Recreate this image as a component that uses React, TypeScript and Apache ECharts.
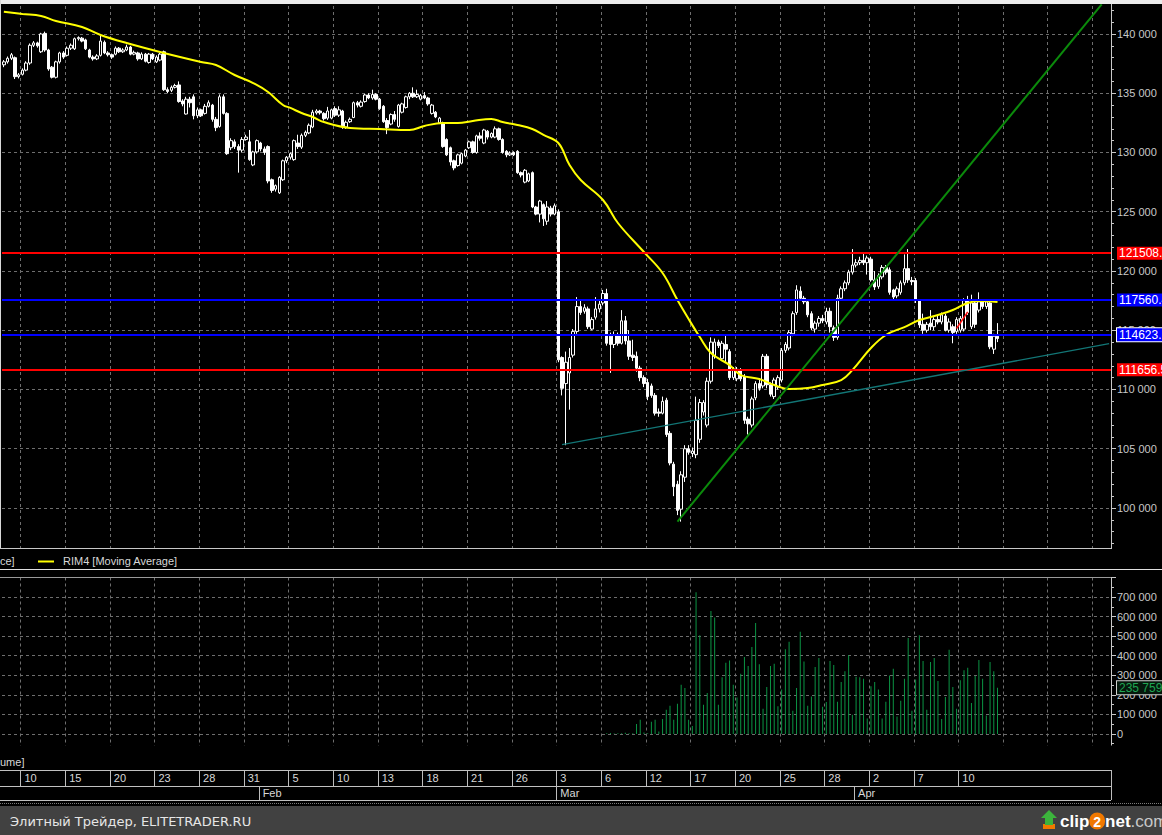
import React, { useEffect, useRef } from "react";
import * as echarts from "echarts";

// ---------------- DATA ----------------
// time axis: 4 bars per trading day, slots 0..297 (bars drawn in 0..267)
const slotCount = 298;

// day labels of the date row and the slot index where each day starts
const dayLabelIndex = [5, 17, 29, 41, 53, 65, 77, 89, 101, 113, 125, 137, 149, 161, 173, 185, 197, 209, 221, 233, 245, 257];
const dayLabels = ["10", "15", "20", "23", "28", "31", "5", "10", "13", "18", "21", "26", "3", "6", "12", "17", "20", "25", "28", "2", "7", "10"];
const monthStartIndex = [69, 149, 229];
const monthLabels = ["Feb", "Mar", "Apr"];

// price axis range visible in the panel
const priceMin = 95000;
const priceMax = 142869;
const priceStep = 5000;
const volumeMin = -100000;
const volumeMax = 800000;
const volumeStep = 100000;

// candles: [open, close, low, high]
const janCandles = [
  [137400, 137650, 137200, 137800], [137650, 137950, 137500, 138100], [137950, 138250, 137800, 138400], [138000, 136400, 136200, 138100],
  [136400, 136550, 136250, 136700], [136600, 136950, 136500, 137100], [136950, 137550, 136850, 137700], [137550, 139050, 137400, 139200],
  [139050, 139250, 138900, 139400], [139250, 139000, 138850, 139350], [138500, 140000, 138400, 140100], [140050, 138650, 138500, 140200],
  [138650, 137050, 136900, 138750], [137200, 136350, 136250, 137300], [136350, 137650, 136250, 137750], [137650, 138400, 137500, 138500],
  [138400, 138050, 137900, 138550], [138200, 138800, 138100, 138950], [138800, 139050, 138650, 139200], [138750, 139600, 138650, 139700],
  [139600, 139700, 139450, 139800], [139650, 139400, 139300, 139750], [139500, 138750, 138650, 139600], [138650, 138050, 137950, 138750],
  [138050, 137900, 137750, 138200], [137900, 138150, 137800, 138300], [138200, 139400, 138100, 139900], [139300, 138400, 138300, 139450],
  [138400, 138250, 138100, 138550], [138250, 138050, 137900, 138350], [138300, 138800, 138200, 138950], [138800, 138500, 138400, 138900],
  [138500, 138650, 138400, 138800], [138650, 138900, 138550, 139100], [138900, 138300, 138200, 139000], [138300, 138450, 138200, 138600],
  [138400, 137900, 137750, 138500], [137900, 138300, 137800, 138450], [138300, 137700, 137600, 138400], [137600, 138300, 137500, 138400],
  [138300, 137900, 137800, 138400], [137650, 138050, 137550, 138200], [137800, 138300, 137700, 138400], [138500, 135300, 135200, 138600],
  [135300, 135150, 135000, 135500], [135250, 135500, 135100, 135650], [135500, 135650, 135400, 135800], [135700, 134300, 134200, 136000],
  [134350, 134100, 133900, 134500], [133250, 134500, 133200, 134700], [134500, 134200, 133800, 134700], [134700, 133100, 132800, 134900],
  [133100, 133600, 132900, 133800], [133600, 133100, 133000, 133700], [133300, 133900, 133200, 134100], [133900, 134200, 133800, 134400],
  [134000, 132800, 132600, 134100], [132800, 132100, 131800, 133000], [132200, 134700, 132100, 134900], [134700, 133300, 133200, 134900],
  [133300, 129900, 129800, 133400], [130400, 131000, 130200, 131200], [130900, 130500, 130300, 131100], [130500, 130200, 128300, 130700],
  [130200, 131100, 130000, 131300], [131100, 131300, 131000, 131500], [130900, 129400, 129300, 131900], [128950, 130050, 128850, 130150],
  [130050, 131000, 129900, 131100],
];
const febCandles = [
  [130800, 130300, 130100, 130900], [130300, 130000, 129800, 130500], [130500, 127600, 127400, 130600], [127700, 126800, 126600, 127800],
  [126900, 127200, 126700, 127300], [126600, 127900, 126500, 128000], [127700, 129300, 127600, 129400], [129300, 129600, 129100, 129700],
  [129600, 129900, 129400, 130000], [129400, 131000, 129300, 131100], [130800, 130500, 130300, 131500], [130450, 131450, 130300, 131600],
  [131450, 131700, 131300, 131850], [131650, 132300, 131550, 132450], [132150, 133400, 132050, 133600], [133350, 133500, 133200, 133650],
  [133500, 133350, 133200, 133600], [133300, 132850, 132700, 133400], [132900, 133500, 132750, 133850], [132900, 133600, 132800, 133700],
  [133700, 133150, 133000, 133900], [133150, 133600, 133000, 133900], [133500, 132150, 132000, 133600], [132150, 132550, 132000, 132700],
  [132600, 132800, 132500, 132950], [132950, 134200, 132900, 134300], [134200, 134000, 133800, 134350], [133900, 134250, 133800, 134400],
  [134300, 134850, 134200, 134950], [134850, 134600, 134500, 135000], [134600, 134900, 134450, 135300], [134900, 134500, 134400, 135000],
  [134500, 133700, 133600, 134600], [133900, 132600, 132500, 134000], [132700, 132100, 131550, 132900], [132400, 133200, 132300, 133300],
  [133200, 132800, 132600, 133500], [132200, 134000, 132100, 134100], [133400, 134100, 133300, 134200], [133800, 134700, 133700, 134800],
  [134700, 135000, 134500, 135100], [135000, 134700, 134600, 135500], [134700, 134900, 134600, 135300], [134500, 134800, 134400, 134950],
  [134800, 134600, 134500, 135100], [134600, 134100, 133950, 134700], [133300, 134000, 133200, 134100], [133400, 133000, 132900, 133500],
  [132500, 132900, 132400, 133000], [132500, 130500, 130400, 132600], [131100, 129800, 129700, 131200], [130400, 129200, 128900, 130500],
  [129300, 128700, 128500, 129400], [128900, 129800, 128800, 129900], [129100, 129900, 129000, 130000], [129700, 130200, 129600, 130300],
  [130400, 130900, 130300, 131000], [130900, 130000, 129900, 131000], [130000, 131400, 129900, 131500], [131400, 131200, 131000, 131700],
  [130800, 131900, 130700, 132000], [131800, 131300, 131100, 131900], [131300, 131600, 131200, 131700], [131300, 132000, 131200, 132200],
  [132000, 131100, 131000, 132100], [131100, 130000, 129900, 131200], [130100, 129800, 129600, 130200], [129800, 129950, 129700, 130100],
  [130000, 129800, 129700, 130100], [130100, 128300, 128200, 130200], [128300, 128100, 127900, 128400], [127500, 128500, 127400, 128600],
  [127600, 128200, 127500, 128300], [128300, 125400, 125300, 128400], [125400, 124800, 124700, 125500], [124800, 125900, 124100, 126000],
  [125600, 124400, 123800, 125700], [124200, 125400, 123900, 125900], [125300, 124800, 124600, 125500], [124800, 125500, 124700, 125700],
];
const marCandles = [
  [125000, 112500, 112300, 125200], [112700, 110100, 109500, 112800], [110500, 112300, 105300, 113200], [111400, 112700, 108300, 113500],
  [112900, 114900, 112700, 115100], [114900, 117000, 114700, 117800], [117000, 116500, 116300, 117600], [116600, 116900, 116400, 117200],
  [116800, 115300, 115100, 117000], [115100, 115900, 115000, 116100], [116100, 116800, 115900, 117800], [116800, 117200, 116500, 117500],
  [117300, 118100, 117100, 118400], [118100, 113900, 113700, 118500], [114500, 113800, 111400, 114800], [113800, 114600, 113500, 114900],
  [114600, 113900, 113700, 114800], [113900, 115800, 113800, 116700], [115800, 114100, 113800, 116200], [114100, 112800, 112500, 115000],
  [112900, 112700, 112400, 114200], [112800, 111800, 111500, 113200], [111800, 111000, 110700, 112000], [111000, 110500, 110200, 111200],
  [110600, 109400, 109100, 110900], [110300, 109500, 109300, 110500], [109500, 108000, 107800, 109700], [108100, 108000, 107700, 108400],
  [108000, 109000, 107900, 109400], [109100, 106200, 106000, 109300], [106300, 103800, 103600, 106500], [103700, 101800, 101000, 103900],
  [102000, 99800, 99400, 102300], [99900, 102800, 98850, 103100], [102600, 105000, 102200, 105300], [105000, 104700, 104500, 105300],
  [104600, 104800, 104300, 105100], [104500, 107400, 104200, 109400], [105800, 108900, 105500, 109200], [108100, 108900, 107800, 109100],
  [107000, 110700, 106800, 111000], [110700, 114000, 110500, 114400], [112800, 114000, 112600, 114300], [114000, 113700, 113500, 114200],
  [112600, 113900, 112400, 114100], [113800, 113400, 112300, 114600], [113200, 111000, 110800, 113400], [111000, 111600, 110800, 111900],
  [110900, 111700, 110700, 111900], [111600, 110900, 110700, 111800], [111100, 107400, 107100, 111300], [107500, 107100, 106200, 107700],
  [107000, 109200, 106800, 109400], [109300, 110500, 109100, 110700], [110500, 110100, 109900, 110900], [110300, 112800, 110100, 113000],
  [112800, 110400, 110100, 113000], [110400, 109600, 109400, 110600], [109400, 110800, 109200, 111000], [110200, 111000, 110000, 111200],
  [110800, 113300, 110600, 113500], [113300, 113800, 113100, 114000], [113500, 114800, 113300, 115000], [114700, 116400, 114500, 116600],
  [116500, 118400, 116300, 118800], [118300, 117700, 117500, 118700], [117700, 117400, 117200, 117900], [117400, 116300, 116100, 117600],
  [116400, 115200, 115000, 116600], [115100, 115600, 114800, 115800], [115600, 116000, 115300, 116200], [116000, 115800, 115600, 116300],
  [115700, 116600, 115500, 116900], [116600, 115300, 114800, 116900], [115200, 114400, 114100, 115400], [114400, 117700, 114200, 118000],
  [117700, 118500, 117600, 118700], [118500, 119000, 118300, 119200], [119000, 119900, 118800, 120100], [119900, 120500, 119700, 121850],
];
const aprCandles = [
  [120500, 120700, 120300, 121000], [120700, 120900, 120500, 121200], [120900, 120700, 120500, 121500], [120700, 121100, 119700, 121300],
  [121000, 119250, 119100, 121200], [119250, 118650, 118400, 120000], [118700, 119600, 118500, 119800], [119500, 120300, 119300, 120500],
  [120300, 119900, 119700, 120500], [120100, 118200, 118000, 120300], [118400, 117800, 117600, 118500], [117900, 118500, 117700, 118700],
  [118200, 119000, 118000, 119200], [119000, 120200, 118800, 121400], [120200, 119250, 119000, 121850], [119200, 119100, 118800, 119500],
  [119200, 117550, 117300, 119400], [117500, 115450, 115200, 117600], [115500, 115000, 114700, 116400], [115000, 115500, 114800, 115700],
  [115600, 115300, 115000, 116700], [115300, 115900, 115000, 116100], [115900, 115700, 115500, 116300], [115700, 116300, 115500, 116500],
  [116200, 115000, 114900, 116400], [115000, 115700, 114800, 116000], [115300, 114800, 113900, 115500], [114900, 115900, 114700, 116100],
  [115000, 116000, 114800, 116200], [115100, 117500, 114900, 117700], [117500, 116500, 116300, 117900], [115300, 117300, 115100, 118000],
  [117300, 115500, 115200, 117500], [116700, 117400, 116500, 118200], [117400, 117000, 116800, 117600], [117000, 117400, 116800, 117600],
  [117300, 113600, 113400, 117500], [113400, 114500, 113000, 114700], [114500, 114300, 114000, 115600],
];

// moving average: slot index and value
const maIndex = [0, 5, 10, 14, 21, 26, 33, 43, 53, 57, 62, 67, 71, 75, 77, 80, 83, 86, 93, 101, 109, 113, 118, 122, 126, 131, 134, 138, 142, 145, 149, 152, 155, 161, 165, 172, 177, 181, 184, 187, 190, 195, 198, 203, 207, 211, 216, 220, 225, 228, 233, 237, 242, 246, 251, 255, 259, 262, 267];
const maValue = [141880, 141690, 141520, 141100, 140590, 139920, 139240, 138400, 137640, 137380, 136540, 135860, 135100, 134010, 133760, 133330, 133000, 132570, 132070, 131980, 131900, 132240, 132490, 132490, 132660, 132830, 132570, 132320, 131980, 131480, 130800, 128940, 127680, 125990, 124050, 121600, 119830, 117550, 115950, 114430, 113080, 112060, 111220, 110880, 110380, 110040, 110120, 110380, 110800, 111640, 113500, 114600, 115270, 115860, 116280, 116710, 117300, 117470, 117390];

// volume (first visible bar at slot 162)
const volumeFirstIndex = 162;
const volumeValues = [
  3000, 5000, 2000, 4000, 3000, 6000, 4000, 3000, 51000, 72000, 7000, 4000, 62000, 72000, 12000, 77000, 124000, 144000, 72000, 155000,
  251000, 235000, 72000, 40000, 725000, 505000, 149000, 210000, 629000, 596000, 149000, 290000, 364000, 376000, 251000, 187000, 308000, 393000, 347000, 445000,
  567000, 356000, 129000, 240000, 347000, 359000, 141000, 227000, 433000, 471000, 119000, 235000, 522000, 371000, 144000, 192000, 342000, 388000, 139000, 163000,
  373000, 352000, 165000, 266000, 321000, 402000, 98000, 292000, 290000, 282000, 79000, 244000, 266000, 227000, 79000, 165000, 299000, 333000, 89000, 170000,
  282000, 491000, 119000, 278000, 505000, 373000, 124000, 368000, 388000, 271000, 77000, 189000, 430000, 240000, 129000, 275000, 326000, 338000, 158000, 296000,
  378000, 282000, 94000, 368000, 321000, 235759,
];

// horizontal levels
const redLevels = [121508.0, 111656.5];
const blueLevels = [117560.4];
const blueBoxedLevels = [114623.1];

// drawn trend lines [slot, price]
const greenTrend = [[181, 98850], [295, 142500]];
const tealTrend = [[150, 105340], [297, 113870]];
const redTrend = [[256, 115150], [259, 116550]];

const legendTitle = "RIM4 [Moving Average]";
const footerText = "Элитный Трейдер, ELITETRADER.RU";

// ---------------- CHART ----------------
const FONT = "'Liberation Sans', Arial, sans-serif";
const AXC = "#c8c8c8";
const fmt = (v: number) => String(Math.round(v)).replace(/\B(?=(\d{3})+(?!\d))/g, " ");

export default function App() {
  const ref = useRef<HTMLDivElement>(null);

  useEffect(() => {
    if (!ref.current) return;
    const chart = echarts.init(ref.current, undefined, { renderer: "svg" });

    const slots = Array.from({ length: slotCount }, (_, i) => String(i));
    const candles = [...janCandles, ...febCandles, ...marCandles, ...aprCandles];
    const maData = maIndex.map((idx, j) => [idx, maValue[j]]);
    const volData = volumeValues.map((v, j) => [volumeFirstIndex + j, v]);
    const isGridSlot = (i: number) => (i - dayLabelIndex[0]) % 12 === 0 && i >= dayLabelIndex[0];
    const isDay = (i: number) => dayLabelIndex.indexOf(i) >= 0;
    const isMonth = (i: number) => monthStartIndex.indexOf(i) >= 0;

    const hiddenX = (gridIndex: number, splitFn: (i: number) => boolean, lineStyle: any) => ({
      type: "category",
      gridIndex,
      data: slots,
      boundaryGap: true,
      axisLine: { show: false },
      axisTick: { show: false },
      axisLabel: { show: false },
      splitLine: { show: true, interval: (i: number) => splitFn(i), lineStyle },
    });
    const dash = { color: "#6e6e6e", type: [3, 3], width: 1 };

    const levelLabel = (bg: string, border?: boolean) => ({
      show: true,
      position: "end",
      distance: 6,
      formatter: (p: any) => Number(p.value).toFixed(1),
      backgroundColor: bg,
      color: "#ffffff",
      fontFamily: FONT,
      fontSize: 12,
      padding: [1, 3, 0, 2],
      borderColor: border ? "#ffffff" : undefined,
      borderWidth: border ? 1 : 0,
    });

    const priceAxisStyle = {
      position: "right",
      axisLine: { show: true, lineStyle: { color: AXC } },
      axisTick: { show: true, length: 5, lineStyle: { color: AXC } },
      axisLabel: { color: AXC, fontSize: 11, fontFamily: FONT, margin: 6, formatter: fmt, showMinLabel: false, showMaxLabel: false },
      splitLine: { show: true, lineStyle: dash },
    };

    const option: any = {
      animation: false,
      backgroundColor: "#000000",
      grid: [
        { left: 2, right: 51, top: 0, height: 567.25 },
        { left: 2, right: 51, top: 577.5, height: 176 },
        { left: 2, right: 51, top: 770, height: 16 },
        { left: 2, right: 51, top: 786, height: 14 },
      ],
      xAxis: [
        hiddenX(0, isGridSlot, dash),
        hiddenX(1, isGridSlot, dash),
        {
          ...hiddenX(2, isDay, { color: "#bdbdbd", width: 1, type: "solid" }),
          axisLabel: {
            show: true, inside: true, interval: (i: number) => isDay(i),
            formatter: (_v: string, i: number) => dayLabels[dayLabelIndex.indexOf(i)] || "",
            align: "left", verticalAlign: "middle", margin: 8, padding: [0, 0, 0, 2],
            color: "#d8d8d8", fontSize: 11, fontFamily: FONT,
          },
        },
        {
          ...hiddenX(3, isMonth, { color: "#bdbdbd", width: 1, type: "solid" }),
          axisLabel: {
            show: true, inside: true, interval: (i: number) => isMonth(i),
            formatter: (_v: string, i: number) => monthLabels[monthStartIndex.indexOf(i)] || "",
            align: "left", verticalAlign: "middle", margin: 7, padding: [0, 0, 0, 2],
            color: "#d8d8d8", fontSize: 11, fontFamily: FONT,
          },
        },
      ],
      yAxis: [
        {
          type: "value", gridIndex: 0, min: priceMin, max: priceMax, interval: priceStep, ...priceAxisStyle,
          minorTick: { show: true, splitNumber: 5, length: 3, lineStyle: { color: AXC } },
        },
        {
          type: "value", gridIndex: 1, min: volumeMin, max: volumeMax, interval: volumeStep, ...priceAxisStyle,
          minorTick: { show: true, splitNumber: 2, length: 3, lineStyle: { color: AXC } },
        },
        { type: "value", gridIndex: 2, show: false },
        { type: "value", gridIndex: 3, show: false },
      ],
      series: [
        {
          type: "candlestick",
          xAxisIndex: 0,
          yAxisIndex: 0,
          data: candles,
          barWidth: 3,
          itemStyle: { color: "#000000", color0: "#ffffff", borderColor: "#ffffff", borderColor0: "#ffffff", borderWidth: 1 },
          markLine: {
            symbol: ["none", "none"],
            silent: true,
            animation: false,
            data: [
              ...redLevels.map((v) => ({ yAxis: v, lineStyle: { color: "#ff0000", width: 2, type: "solid" }, label: levelLabel("#ff0000") })),
              ...blueLevels.map((v) => ({ yAxis: v, lineStyle: { color: "#0000ff", width: 2, type: "solid" }, label: levelLabel("#0000ff") })),
              ...blueBoxedLevels.map((v) => ({ yAxis: v, lineStyle: { color: "#0000ff", width: 2, type: "solid" }, label: levelLabel("#0000ff", true) })),
              [
                { coord: greenTrend[0], lineStyle: { color: "#0b8a0b", width: 2, type: "solid" }, label: { show: false } },
                { coord: greenTrend[1] },
              ],
              [
                { coord: tealTrend[0], lineStyle: { color: "#127676", width: 1.3, type: "solid" }, label: { show: false } },
                { coord: tealTrend[1] },
              ],
              [
                { coord: redTrend[0], lineStyle: { color: "#ff1010", width: 1.5, type: "solid" }, label: { show: false } },
                { coord: redTrend[1] },
              ],
            ],
          },
          z: 3,
        },
        {
          type: "line",
          xAxisIndex: 0,
          yAxisIndex: 0,
          data: maData,
          symbol: "none",
          smooth: 0.4,
          lineStyle: { color: "#ffff00", width: 2 },
          z: 4,
        },
        {
          type: "bar",
          xAxisIndex: 1,
          yAxisIndex: 1,
          data: volData,
          barWidth: 1,
          itemStyle: { color: "#0b9444" },
          markLine: {
            symbol: ["none", "none"],
            silent: true,
            animation: false,
            data: [
              {
                yAxis: volumeValues[volumeValues.length - 1],
                lineStyle: { color: "rgba(0,0,0,0)", width: 0 },
                label: {
                  show: true, position: "end", distance: 6, formatter: (p: any) => fmt(Number(p.value)),
                  backgroundColor: "#06180c", borderColor: "#d0d0d0", borderWidth: 1,
                  color: "#1fa552", fontFamily: FONT, fontSize: 12, padding: [1, 2, 0, 2],
                },
              },
            ],
          },
        },
      ],
      graphic: [
        // frame strips
        { type: "rect", shape: { x: 0, y: 0, width: 1162, height: 4 }, style: { fill: "#ececec" }, z: 100 },
        { type: "rect", shape: { x: 0, y: 0, width: 1, height: 548 }, style: { fill: "#d8d8d8" }, z: 100 },
        // legend row cover + separators
        { type: "rect", shape: { x: 0, y: 549, width: 1162, height: 28 }, style: { fill: "#000000" }, z: 100 },
        { type: "line", shape: { x1: 0, y1: 548.5, x2: 1111, y2: 548.5 }, style: { stroke: "#c8c8c8", lineWidth: 1 }, z: 101 },
        { type: "line", shape: { x1: 0, y1: 569.5, x2: 1162, y2: 569.5 }, style: { stroke: "#e0e0e0", lineWidth: 1 }, z: 101 },
        { type: "line", shape: { x1: 0, y1: 577.5, x2: 1111, y2: 577.5 }, style: { stroke: "#9a9a9a", lineWidth: 1 }, z: 101 },
        { type: "text", x: 0, y: 561, style: { text: "ce]", fill: "#d8d8d8", fontSize: 11, fontFamily: FONT, verticalAlign: "middle" }, z: 101 },
        { type: "line", shape: { x1: 38, y1: 561.5, x2: 54, y2: 561.5 }, style: { stroke: "#ffff00", lineWidth: 2 }, z: 101 },
        { type: "text", x: 63, y: 561, style: { text: legendTitle, fill: "#d8d8d8", fontSize: 11, fontFamily: FONT, verticalAlign: "middle" }, z: 101 },
        // below volume panel
        { type: "rect", shape: { x: 0, y: 745.5, width: 1162, height: 24 }, style: { fill: "#000000" }, z: 100 },
        { type: "text", x: 0, y: 762, style: { text: "ume]", fill: "#d8d8d8", fontSize: 11, fontFamily: FONT, verticalAlign: "middle" }, z: 101 },
        // date rows
        { type: "line", shape: { x1: 0, y1: 770.5, x2: 1111, y2: 770.5 }, style: { stroke: "#c0c0c0", lineWidth: 1 }, z: 101 },
        { type: "line", shape: { x1: 0, y1: 786.5, x2: 1111, y2: 786.5 }, style: { stroke: "#c0c0c0", lineWidth: 1 }, z: 101 },
        { type: "line", shape: { x1: 0, y1: 800.5, x2: 1111, y2: 800.5 }, style: { stroke: "#c0c0c0", lineWidth: 1 }, z: 101 },
        { type: "line", shape: { x1: 0, y1: 803.5, x2: 1162, y2: 803.5 }, style: { stroke: "#7a7a7a", lineWidth: 1, lineDash: [1, 1] }, z: 101 },
        // footer
        { type: "rect", shape: { x: 0, y: 806, width: 1162, height: 29 }, style: { fill: "#414141" }, z: 100 },
        { type: "text", x: 10, y: 821, style: { text: footerText, fill: "#e6e6e6", fontSize: 13, fontFamily: "'DejaVu Sans', sans-serif", verticalAlign: "middle" }, z: 101 },
        { type: "rect", shape: { x: 1043, y: 824, width: 12, height: 5 }, style: { fill: "#f07a00" }, z: 101 },
        { type: "polygon", shape: { points: [[1049, 810], [1057, 818], [1053, 818], [1053, 825], [1045, 825], [1045, 818], [1041, 818]] }, style: { fill: "#3cb43c" }, z: 102 },
        {
          type: "text", x: 1060, y: 821,
          style: {
            text: "{w|clip}{o|2}{w|net}{g|.com}", verticalAlign: "middle",
            rich: {
              w: { fill: "#ffffff", fontSize: 17, fontWeight: "bold", fontFamily: "Arial, 'Liberation Sans', sans-serif" },
              o: { fill: "#ffffff", fontSize: 14, fontWeight: "bold", backgroundColor: "#f07800", borderRadius: 9, padding: [2, 4, 1, 4], fontFamily: "Arial, 'Liberation Sans', sans-serif" },
              g: { fill: "#c8c8c8", fontSize: 17, fontFamily: "Arial, 'Liberation Sans', sans-serif" },
            },
          },
          z: 101,
        },
      ],
    };

    chart.setOption(option);
    return () => chart.dispose();
  }, []);

  return (
    <div style={{ position: "fixed", left: 0, top: 0, width: 1162, height: 835, background: "#000" }}>
      <div ref={ref} style={{ width: 1162, height: 835 }} />
    </div>
  );
}
